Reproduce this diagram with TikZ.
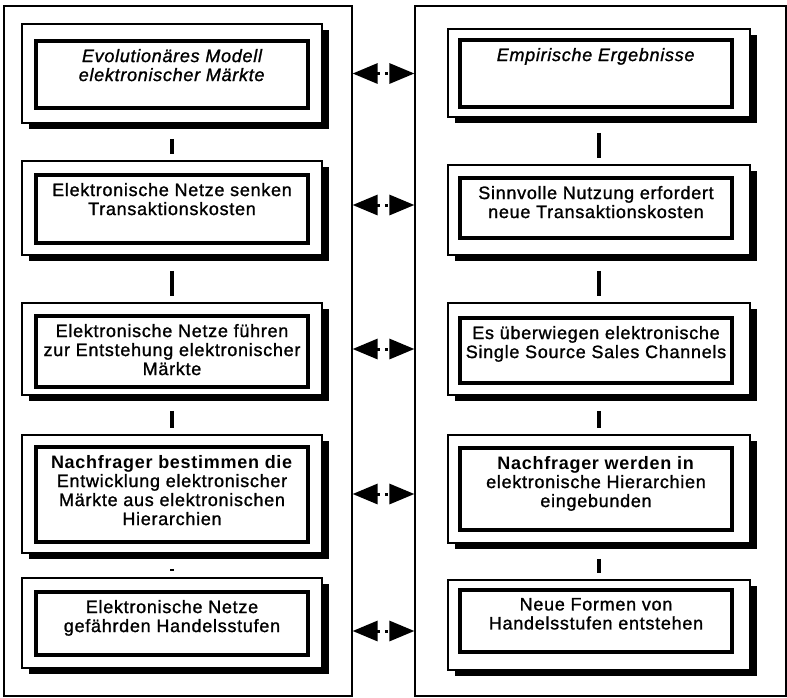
\documentclass[tikz,border=0pt]{standalone}
\usepackage{fontspec}
\setmainfont{Liberation Sans}[LetterSpace=4,
	UprightFeatures={FakeBold=1.2}, ItalicFeatures={FakeBold=1.2}]
\usetikzlibrary{positioning, shadows, arrows.meta}

\newcommand{\boxtext}[2]{\parbox[c][#1pt][t]{264pt}{\centering #2}}

\begin{document}
\begin{tikzpicture}[x=1pt, y=-1pt]
	\useasboundingbox (0,0) rectangle (787,697);
	\begin{scope}
		\tikzstyle{panel}=[draw, line width=1.2pt, inner sep=0pt, minimum height=690pt]
		\tikzstyle{frame}=[draw, line width=1.8pt, fill=white, inner sep=0pt,
			drop shadow={shadow xshift=7pt, shadow yshift=-6pt, fill=black, opacity=1}]
		\tikzstyle{cell}=[draw, line width=3.5pt, fill=white, minimum width=272pt,
			inner xsep=4pt, inner ysep=8pt, font=\fontsize{18pt}{19pt}\selectfont]
		\tikzstyle{link}=[line width=4pt, shorten <=15pt, shorten >=6pt]
		\tikzstyle{pair}=[line width=3pt, dash pattern=on 3pt off 5pt,
			{Triangle[length=25pt, width=20pt]}-{Triangle[length=25pt, width=20pt]}]

		\node[panel, minimum width=348pt] (models) at (178, 351) {};
		\node[panel, minimum width=371pt] (results) at (600.5, 351) {};

		% left column
		\node[frame, minimum width=300pt, minimum height=99pt] (evoframe) at (172, 73.5) {};
		\node[cell] (evo) at (172, 74.5) {\boxtext{51}{\textit{Evolutionäres Modell\\elektronischer Märkte}}};
		\node[frame, minimum width=300pt, minimum height=94pt] (senkframe) at (172, 208) {};
		\node[cell] (senk) at (172, 209) {\boxtext{52}{Elektronische Netze senken\\Transaktionskosten}};
		\node[frame, minimum width=300pt, minimum height=92pt] (marktframe) at (172, 349) {};
		\node[cell] (markt) at (172, 351.5) {\boxtext{55}{Elektronische Netze führen\\zur Entstehung elektronischer\\Märkte}};
		\node[frame, minimum width=300pt, minimum height=118pt] (nachframe) at (172, 494) {};
		\node[cell] (nach) at (172, 494.5) {\boxtext{79}{\textbf{Nachfrager bestimmen die}\\Entwicklung elektronischer\\Märkte aus elektronischen\\Hierarchien}};
		\node[frame, minimum width=300pt, minimum height=90pt] (handelframe) at (172, 623) {};
		\node[cell] (handel) at (172, 623.5) {\boxtext{47}{Elektronische Netze\\gefährden Handelsstufen}};

		% right column
		\node[frame, minimum width=302pt, minimum height=88pt] (empframe) at (599, 73) {};
		\node[cell] (emp) at (596, 73.5) {\boxtext{51}{\textit{Empirische Ergebnisse}}};
		\node[frame, minimum width=302pt, minimum height=90pt] (nutzframe) at (599, 210) {};
		\node[cell] (nutz) at (596, 208) {\boxtext{44}{Sinnvolle Nutzung erfordert\\neue Transaktionskosten}};
		\node[frame, minimum width=302pt, minimum height=92pt] (channelframe) at (599, 349) {};
		\node[cell] (channel) at (596, 350.5) {\boxtext{49}{Es überwiegen elektronische\\Single Source Sales Channels}};
		\node[frame, minimum width=302pt, minimum height=108pt] (hierframe) at (599, 489) {};
		\node[cell] (hier) at (596, 489) {\boxtext{66}{\textbf{Nachfrager werden in}\\elektronische Hierarchien\\eingebunden}};
		\node[frame, minimum width=302pt, minimum height=90pt] (formframe) at (599, 625) {};
		\node[cell] (form) at (596, 621) {\boxtext{46}{Neue Formen von\\Handelsstufen entstehen}};

		\draw [link] (evoframe) to (senkframe);
		\draw [link] (senkframe) to (marktframe);
		\draw [link] (marktframe) to (nachframe);
		\draw [link] (nachframe) to (handelframe);

		\draw [link] (empframe) to (nutzframe);
		\draw [link] (nutzframe) to (channelframe);
		\draw [link] (channelframe) to (hierframe);
		\draw [link] (hierframe) to (formframe);

		\draw [pair] (models.east |- evoframe) to (results.west |- evoframe);
		\draw [pair] ([yshift=3pt]models.east |- senkframe) to ([yshift=3pt]results.west |- senkframe);
		\draw [pair] (models.east |- marktframe) to (results.west |- marktframe);
		\draw [pair] (models.east |- nachframe) to (results.west |- nachframe);
		\draw [pair] ([yshift=-8pt]models.east |- handelframe) to ([yshift=-8pt]results.west |- handelframe);
	\end{scope}
\end{tikzpicture}
\end{document}
